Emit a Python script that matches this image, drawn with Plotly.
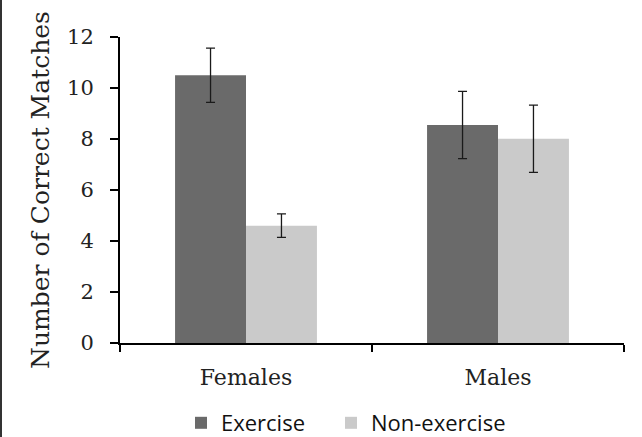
import plotly.graph_objects as go

categories = ["Females", "Males"]
exercise = [10.5, 8.55]
exercise_err = [1.06, 1.32]
nonexercise = [4.6, 8.01]
nonexercise_err = [0.46, 1.32]
y_ticks = [0, 2, 4, 6, 8, 10, 12]

W, H = 642, 437
L, R, T, B = 120, 18, 37, 94
pw, ph = W - L - R, H - T - B

fig = go.Figure()
fig.add_trace(go.Bar(
    x=categories, y=exercise, name="Exercise", legend="legend",
    marker=dict(color="#6a6a6a", line=dict(width=0)),
    error_y=dict(type="data", array=exercise_err, color="#1a1a1a", thickness=1.3, width=4.5),
))
fig.add_trace(go.Bar(
    x=categories, y=nonexercise, name="Non-exercise", legend="legend2",
    marker=dict(color="#cacaca", line=dict(width=0)),
    error_y=dict(type="data", array=nonexercise_err, color="#1a1a1a", thickness=1.3, width=4.5),
))

serif = "DejaVu Serif"
leg_common = dict(
    orientation="h", xanchor="left",
    y=(343 - 402) / ph, yanchor="top",
    font=dict(family="Open Sans", size=22, color="#111"),
    bgcolor="rgba(0,0,0,0)",
)
fig.update_layout(
    width=W, height=H,
    margin=dict(l=L, r=R, t=T, b=B, autoexpand=False),
    paper_bgcolor="white", plot_bgcolor="white",
    barmode="group", bargap=0.437, bargroupgap=0,
    showlegend=True,
    legend=dict(x=(181 - L) / pw, **leg_common),
    legend2=dict(x=(331 - L) / pw, **leg_common),
    xaxis=dict(
        automargin=False,
        showline=True, linecolor="black", linewidth=2,
        ticks="outside", ticklen=7, tickwidth=2, tickcolor="black",
        tickson="boundaries", showgrid=False,
        ticklabelstandoff=14,
        tickfont=dict(family=serif, size=22, color="#222"),
    ),
    yaxis=dict(
        automargin=False,
        range=[0, 12], tickvals=y_ticks,
        showline=True, linecolor="black", linewidth=2,
        ticks="outside", ticklen=8, tickwidth=2, tickcolor="black",
        showgrid=False, zeroline=False,
        ticklabelstandoff=12,
        tickfont=dict(family=serif, size=21, color="#222"),
        title=dict(text="Number of Correct Matches", font=dict(family=serif, size=25, color="#222"), standoff=10),
    ),
    shapes=[dict(
        type="line", xref="paper", yref="paper",
        x0=(1 - L) / pw, x1=(1 - L) / pw,
        y0=(343 - 437) / ph, y1=(343 - 0) / ph,
        line=dict(color="#333", width=2),
    )],
)

fig.write_html("out.html", config={"displayModeBar": False},
               post_script="document.body.style.margin='0';")
